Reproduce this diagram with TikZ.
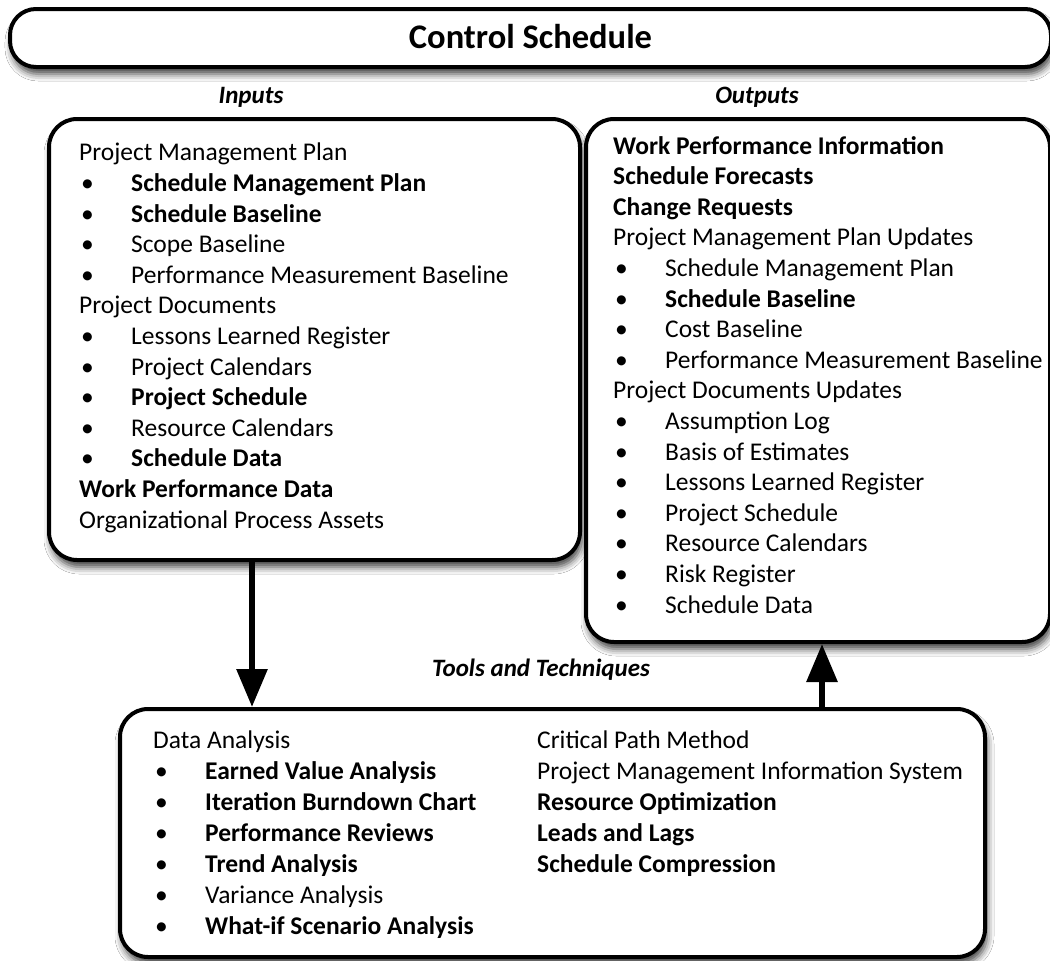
\documentclass[tikz,border=0pt]{standalone}
\usepackage{fontspec}
\setmainfont{Carlito}
\usetikzlibrary{arrows.meta,shadows.blur}

\newlength\bulletindent
\setlength\bulletindent{52pt}
\newcommand\bitem[1]{\makebox[\bulletindent][l]{\hspace{2pt}\textbullet}#1}

\tikzset{
  panel/.style={draw=black, line width=4pt, fill=white, rounded corners=28pt,
    inner sep=0pt, anchor=north west,
    blur shadow={shadow xshift=2pt, shadow yshift=-7pt, shadow blur radius=7pt,
      shadow opacity=75}},
  listtext/.style={anchor=north west, inner sep=0pt, align=left,
    font=\fontsize{25.5}{30.6}\selectfont},
  caption/.style={font=\fontsize{25}{28}\selectfont\bfseries\itshape, inner sep=0pt},
  bigarrow/.style={line width=6pt, -{Triangle[width=30pt,length=38pt]}},
}

\begin{document}
\begin{tikzpicture}[x=1pt,y=-1pt]
\useasboundingbox[fill=white] (0,0) rectangle (1050,961);

% process title bar
\node[panel, rounded corners=26pt, minimum width=1041pt, minimum height=58pt] (title) at (8,7) {};
\node[font=\fontsize{34.5}{40}\selectfont\bfseries, inner sep=0pt] (titletext) at ([yshift=1.5pt]title.center) {Control Schedule};

% section captions
\node[caption] (incap) at (251,97) {Inputs};
\node[caption] (outcap) at (757,97) {Outputs};
\node[caption] (ttcap) at (541,670) {Tools and Techniques};

% the three panels
\node[panel, minimum width=531pt, minimum height=441pt] (inputs) at (47,117) {};
\node[panel, minimum width=464pt, minimum height=523pt] (outputs) at (584,117) {};
\node[panel, minimum width=865pt, minimum height=248pt] (tools) at (118,707) {};

% inputs list
\node[listtext] (inlist) at (79,143) {
Project Management Plan\\
\bitem{\textbf{Schedule Management Plan}}\\
\bitem{\textbf{Schedule Baseline}}\\
\bitem{Scope Baseline}\\
\bitem{Performance Measurement Baseline}\\
Project Documents\\
\bitem{Lessons Learned Register}\\
\bitem{Project Calendars}\\
\bitem{\textbf{Project Schedule}}\\
\bitem{Resource Calendars}\\
\bitem{\textbf{Schedule Data}}\\
\textbf{Work Performance Data}\\
Organizational Process Assets};

% outputs list
\node[listtext] (outlist) at (613,136) {
\textbf{Work Performance Information}\\
\textbf{Schedule Forecasts}\\
\textbf{Change Requests}\\
Project Management Plan Updates\\
\bitem{Schedule Management Plan}\\
\bitem{\textbf{Schedule Baseline}}\\
\bitem{Cost Baseline}\\
\bitem{Performance Measurement Baseline}\\
Project Documents Updates\\
\bitem{Assumption Log}\\
\bitem{Basis of Estimates}\\
\bitem{Lessons Learned Register}\\
\bitem{Project Schedule}\\
\bitem{Resource Calendars}\\
\bitem{Risk Register}\\
\bitem{Schedule Data}};

% tools and techniques, left column
\node[listtext, font=\fontsize{25.5}{31}\selectfont] (ttleft) at (153,731) {\setlength\bulletindent{47pt}%
Data Analysis\\
\bitem{\textbf{Earned Value Analysis}}\\
\bitem{\textbf{Iteration Burndown Chart}}\\
\bitem{\textbf{Performance Reviews}}\\
\bitem{\textbf{Trend Analysis}}\\
\bitem{Variance Analysis}\\
\bitem{\textbf{What-if Scenario Analysis}}};

% tools and techniques, right column
\node[listtext, font=\fontsize{25.5}{31}\selectfont] (ttright) at (537,731) {
Critical Path Method\\
Project Management Information System\\
\textbf{Resource Optimization}\\
\textbf{Leads and Lags}\\
\textbf{Schedule Compression}};

% flow arrows
\coordinate (downx) at (252,0);
\coordinate (upx) at (822,0);
\draw[bigarrow] (inputs.south -| downx) -- (tools.north -| downx);
\draw[bigarrow] (tools.north -| upx) -- (outputs.south -| upx);
\end{tikzpicture}
\end{document}
